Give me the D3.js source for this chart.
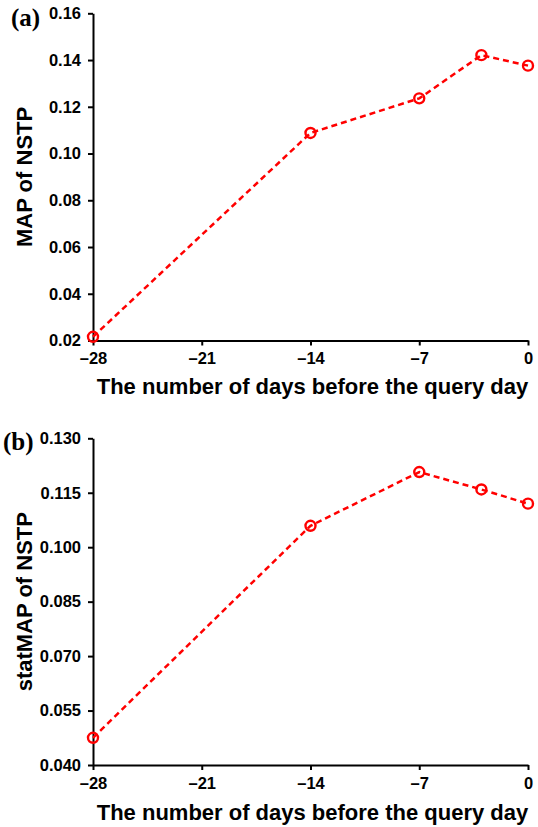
<!DOCTYPE html>
<html>
<head>
<meta charset="utf-8">
<script src="https://cdn.jsdelivr.net/npm/d3@7"></script>
<style>
  body { margin: 0; background: #fff; }
  .axisTitle { font-family: "Liberation Sans", Arial, sans-serif; font-weight: bold; font-size: 22px; fill: #000; }
  .panelLabel { font-family: "Liberation Serif", "Times New Roman", serif; font-weight: bold; font-size: 25px; fill: #000; }
</style>
</head>
<body>
<div id="chart"></div>
<script>
// Data
var days = [-28, -14, -7, -3, 0];
var mapValues = [0.0216, 0.1088, 0.1236, 0.1421, 0.1376];
var statMapValues = [0.0475, 0.1059, 0.1207, 0.1159, 0.1120];

var xTicks = [-28, -21, -14, -7, 0];
var mapTicks = [0.02, 0.04, 0.06, 0.08, 0.10, 0.12, 0.14, 0.16];
var statMapTicks = [0.040, 0.055, 0.070, 0.085, 0.100, 0.115, 0.130];

var svgWidth = 538;
var svgHeight = 827;

var svg = d3.select("#chart")
  .append("svg")
  .attr("width", svgWidth)
  .attr("height", svgHeight);

var xTitle = "The number of days before the query day";

// draw one panel
function drawPanel(opts) {
  var x = d3.scaleLinear().domain([-28, 0]).range([93, 528]);
  var y = d3.scaleLinear().domain(opts.yDomain).range([opts.bottom, opts.top]);

  var xAxis = d3.axisBottom(x)
    .tickValues(xTicks)
    .tickSize(5)
    .tickSizeOuter(0)
    .tickPadding(7)
    .tickFormat(function(d) { return d < 0 ? "\u2013" + Math.abs(d) : d; });

  var yAxis = d3.axisLeft(y)
    .tickValues(opts.yTicks)
    .tickSize(5)
    .tickSizeOuter(0)
    .tickPadding(7)
    .tickFormat(d3.format(opts.fmt));

  var gx = svg.append("g")
    .attr("transform", `translate(0, ${opts.bottom})`)
    .call(xAxis);

  var gy = svg.append("g")
    .attr("transform", `translate(93, 0)`)
    .call(yAxis);

  [gx, gy].forEach(function(g) {
    g.attr("font-size", null).attr("font-family", null);
    g.select(".domain").attr("stroke", "#000").attr("stroke-width", 2);
    g.selectAll(".tick line").attr("stroke", "#000").attr("stroke-width", 2);
    g.selectAll(".tick text")
      .style("font-family", "'Liberation Sans', Arial, sans-serif")
      .style("font-weight", "bold")
      .style("font-size", "16.5px")
      .style("fill", "#000");
  });

  var data = days.map(function(d, i) { return { day: d, value: opts.values[i] }; });

  var line = d3.line()
    .x(d => x(d.day))
    .y(d => y(d.value));

  svg.append("path")
    .datum(data)
    .attr("d", line)
    .attr("fill", "none")
    .attr("stroke", "#ff0000")
    .attr("stroke-width", 2.5)
    .attr("stroke-dasharray", "6,4");

  svg.append("g").selectAll("circle")
    .data(data)
    .enter()
    .append("circle")
    .attr("cx", d => x(d.day))
    .attr("cy", d => y(d.value))
    .attr("r", 5)
    .attr("fill", "none")
    .attr("stroke", "#ff0000")
    .attr("stroke-width", 2.4);

  // axis titles
  svg.append("text")
    .attr("class", "axisTitle")
    .attr("x", (93 + 528) / 2 + 2)
    .attr("y", opts.bottom + opts.titleGap)
    .attr("text-anchor", "middle")
    .text(xTitle);

  svg.append("text")
    .attr("class", "axisTitle")
    .attr("transform", `translate(32, ${(opts.top + opts.bottom) / 2}) rotate(-90)`)
    .attr("text-anchor", "middle")
    .text(opts.yTitle);

  svg.append("text")
    .attr("class", "panelLabel")
    .attr("x", opts.labelX)
    .attr("y", opts.labelY)
    .text(opts.label);
}

drawPanel({
  values: mapValues,
  yDomain: [0.02, 0.16],
  yTicks: mapTicks,
  fmt: ".2f",
  top: 13.3,
  bottom: 340.5,
  titleGap: 53,
  yTitle: "MAP of NSTP",
  label: "(a)",
  labelX: 11,
  labelY: 26
});

drawPanel({
  values: statMapValues,
  yDomain: [0.040, 0.130],
  yTicks: statMapTicks,
  fmt: ".3f",
  top: 438.3,
  bottom: 765,
  titleGap: 55,
  yTitle: "statMAP of NSTP",
  label: "(b)",
  labelX: 3,
  labelY: 450
});
</script>
</body>
</html>
